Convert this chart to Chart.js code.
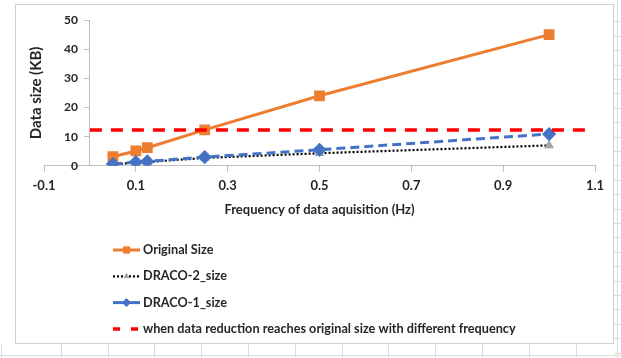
<!DOCTYPE html>
<html>
<head>
<meta charset="utf-8">
<script src="https://cdn.jsdelivr.net/npm/chart.js@4/dist/chart.umd.min.js"></script>
<style>
  html, body { margin: 0; padding: 0; }
  body { width: 621px; height: 358px; position: relative; overflow: hidden; background: #fff; }
  /* spreadsheet cells peeking out around the chart frame */
  #cellsRight {
    position: absolute; left: 614px; top: 0; width: 7px; height: 358px;
    background-image:
      linear-gradient(to right, transparent 3px, #d9d9d9 3px, #d9d9d9 4px, transparent 4px),
      repeating-linear-gradient(to bottom, transparent 0, transparent 13.4px, #dcdcdc 13.4px, #dcdcdc 14.4px);
    background-position: 0 0, 0 8px;
  }
  #cellsBottom {
    position: absolute; left: 0; top: 344px; width: 621px; height: 14px;
    background-image:
      linear-gradient(to bottom, transparent 11px, #d9d9d9 11px, #d9d9d9 12px, transparent 12px),
      repeating-linear-gradient(to right, transparent 0, transparent 45.8px, #dcdcdc 45.8px, #dcdcdc 46.8px);
    background-position: 0 0, 15px 0;
  }
  #frame {
    position: absolute; left: 15px; top: 4px; width: 597px; height: 338px;
    border: 1px solid #d0d0d0; background: #fff;
  }
</style>
</head>
<body>
<div id="cellsRight"></div>
<div id="cellsBottom"></div>
<div id="frame"><canvas id="sizeChart"></canvas></div>
<script>
// values
const freqHz = [0.05, 0.1, 0.125, 0.25, 0.5, 1.0];
const originalSize = [3.1, 5.1, 6.2, 12.3, 24.0, 45.0];
const draco2Size = [0.5, 1.1, 1.3, 2.7, 4.3, 7.0];
const draco1Size = [0.6, 1.3, 1.5, 3.0, 5.5, 10.9];
const limitFreq = [0, 1.09];
const limitSize = [12.3, 12.3];

const xMin = -0.1, xMax = 1.1, xStep = 0.2;
const yMin = 0, yMax = 50, yStep = 10;

const seriesNames = [
  "Original Size",
  "DRACO-2_size",
  "DRACO-1_size",
  "when data reduction reaches original size with different frequency"
];

const fontFamily = "Lato, 'Liberation Sans', Arial, sans-serif";
const textColor = "#262626";
const axisColor = "#bfbfbf";

function toPoints(xs, ys) {
  return xs.map((x, i) => ({ x: x, y: ys[i] }));
}

// Excel style legend: one entry per row, under the plot
const stackedLegend = {
  id: "stackedLegend",
  afterDraw(chart, args, opts) {
    const ctx = chart.ctx;
    chart.data.datasets.forEach((ds, i) => {
      const y = opts.top + i * opts.rowHeight;
      const x0 = opts.left;
      const x1 = opts.left + opts.sampleWidth;
      ctx.save();
      ctx.strokeStyle = ds.borderColor;
      ctx.lineWidth = ds.borderWidth;
      ctx.setLineDash(ds.legendDash || ds.borderDash || []);
      ctx.beginPath();
      ctx.moveTo(x0, y);
      ctx.lineTo(x1, y);
      ctx.stroke();
      ctx.setLineDash([]);
      if (ds.pointRadius > 0) {
        ctx.fillStyle = ds.pointBackgroundColor;
        ctx.strokeStyle = ds.pointBorderColor;
        ctx.lineWidth = 1;
        Chart.helpers.drawPoint(ctx, {
          pointStyle: ds.pointStyle,
          radius: ds.pointRadius * 0.8,
          borderWidth: 1,
          rotation: 0
        }, (x0 + x1) / 2, y);
      }
      ctx.fillStyle = opts.color;
      ctx.font = opts.font;
      ctx.textBaseline = "middle";
      ctx.textAlign = "left";
      ctx.fillText(ds.label, opts.textX, y);
      ctx.restore();
    });
  }
};

const ctx = document.getElementById("sizeChart").getContext("2d");
const sizeChart = new Chart(ctx, {
  type: "line",
  data: {
    datasets: [
      {
        label: seriesNames[0],
        data: toPoints(freqHz, originalSize),
        borderColor: "#ED7D31",
        borderWidth: 3,
        pointStyle: "rect",
        pointRadius: 5.5,
        pointBackgroundColor: "#ED7D31",
        pointBorderColor: "#ED7D31",
        order: 3
      },
      {
        label: seriesNames[1],
        data: toPoints(freqHz, draco2Size),
        borderColor: "#000000",
        borderWidth: 2.2,
        borderDash: [2, 2],
        pointStyle: "triangle",
        pointRadius: 3.5,
        pointBackgroundColor: "#A5A5A5",
        pointBorderColor: "#A5A5A5",
        order: 2
      },
      {
        label: seriesNames[2],
        data: toPoints(freqHz, draco1Size),
        borderColor: "#4472C4",
        borderWidth: 3,
        borderDash: [9, 5],
        legendDash: [],
        pointStyle: "rectRot",
        pointRadius: 5,
        pointBackgroundColor: "#4472C4",
        pointBorderColor: "#4472C4",
        order: 1
      },
      {
        label: seriesNames[3],
        data: toPoints(limitFreq, limitSize),
        borderColor: "#FF0000",
        borderWidth: 3.5,
        borderDash: [12, 9],
        legendDash: [7, 11],
        pointRadius: 0,
        order: 0
      }
    ]
  },
  options: {
    responsive: true,
    maintainAspectRatio: false,
    animation: false,
    events: [],
    layout: {
      padding: { left: 11, top: 15, right: 18, bottom: 125 }
    },
    plugins: {
      legend: { display: false },
      tooltip: { enabled: false },
      stackedLegend: {
        left: 97,
        sampleWidth: 27,
        textX: 127,
        top: 245,
        rowHeight: 26.3,
        color: textColor,
        font: "bold 12.7px " + fontFamily
      }
    },
    scales: {
      x: {
        type: "linear",
        position: "bottom",
        min: xMin,
        max: xMax,
        grid: {
          display: true,
          drawOnChartArea: false,
          drawTicks: true,
          tickLength: 6,
          color: axisColor
        },
        border: { display: true, color: axisColor, width: 1 },
        ticks: {
          stepSize: xStep,
          padding: 6,
          color: textColor,
          font: { family: fontFamily, size: 13, weight: "bold" },
          callback: (v) => Number(v).toFixed(1)
        },
        title: {
          display: true,
          text: "Frequency of data aquisition (Hz)",
          color: textColor,
          font: { family: fontFamily, size: 13, weight: "bold" },
          padding: { top: 3, bottom: 0 }
        }
      },
      y: {
        type: "linear",
        position: { x: 0 },
        min: yMin,
        max: yMax,
        grid: {
          display: true,
          drawOnChartArea: false,
          drawTicks: true,
          tickLength: 5,
          color: axisColor
        },
        border: { display: true, color: axisColor, width: 1 },
        ticks: {
          stepSize: yStep,
          color: textColor,
          font: { family: fontFamily, size: 12, weight: "bold" },
          // labels of an axis placed at x = 0 sit on the line; wide spaces keep the gap
          callback: (v) => v + "\u2003\u2005"
        }
      },
      yTitle: {
        type: "linear",
        position: "left",
        min: yMin,
        max: yMax,
        grid: { display: false, drawTicks: false },
        border: { display: false },
        ticks: { display: false },
        title: {
          display: true,
          text: "Data size (KB)",
          color: textColor,
          font: { family: fontFamily, size: 15, weight: "bold", lineHeight: 1 },
          padding: { top: 2, bottom: 0 }
        }
      }
    }
  },
  plugins: [stackedLegend]
});
</script>
</body>
</html>
